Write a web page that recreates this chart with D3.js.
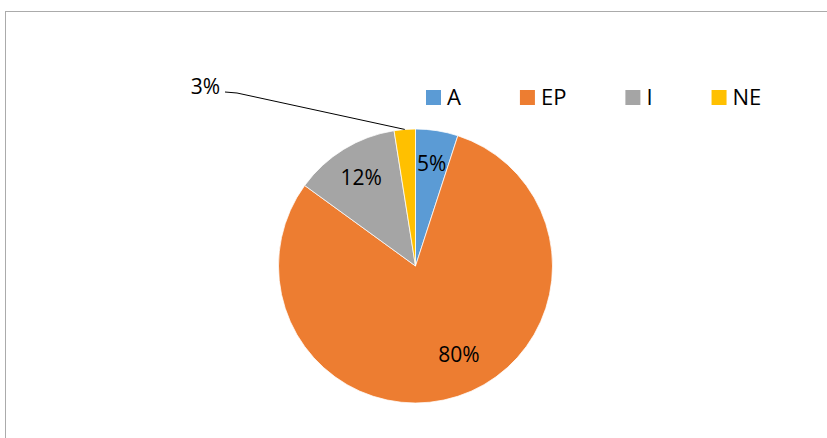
<!DOCTYPE html>
<html>

<head>
    <meta charset="UTF-8">
    <title>Pie chart</title>
    <script src="https://d3js.org/d3.v7.min.js"></script>
    <style>
        body { margin: 0; background: #fff; }
        text { font-family: "Open Sans", "Noto Sans", sans-serif; fill: #000; }
    </style>
</head>

<body>
    <div class="canvas"></div>

    <script>
        // data
        const categories = ["A", "EP", "I", "NE"];
        const values = [5, 80, 12.5, 2.5];
        const labels = ["5%", "80%", "12%", "3%"];

        const colors = ["#5B9BD5", "#ED7D31", "#A5A5A5", "#FFC000"];

        const width = 827;
        const height = 438;
        const cx = 415.5, cy = 266, radius = 137;

        const svg = d3.select(".canvas")
            .append("svg")
            .attr("width", width)
            .attr("height", height);

        // chart border (right & bottom run off the page)
        svg.append("rect")
            .attr("x", 5.5)
            .attr("y", 11.5)
            .attr("width", width + 20)
            .attr("height", height + 20)
            .attr("fill", "none")
            .attr("stroke", "#ababab")
            .attr("stroke-width", 1);

        const color = d3.scaleOrdinal().domain(categories).range(colors);

        const pie = d3.pie().sort(null).value(d => d.value);
        const slices = pie(categories.map((c, i) => ({ name: c, value: values[i], label: labels[i] })));

        const arc = d3.arc().innerRadius(0).outerRadius(radius);

        const graph = svg.append("g")
            .attr("transform", `translate(${cx}, ${cy})`);

        graph.selectAll("path")
            .data(slices)
            .enter()
            .append("path")
            .attr("d", arc)
            .attr("fill", d => color(d.data.name))
            .attr("stroke", "#fff")
            .attr("stroke-width", 0.75);

        // labels: inside ones at ~0.76R, tiny slices go outside with a leader line
        const labelR = 104;
        const fontSize = 21;
        const capHalf = 7.5;

        slices.forEach((d, i) => {
            let a = (d.startAngle + d.endAngle) / 2;
            const share = d.value / d3.sum(values);
            if (share < 0.04) {
                // outside label with leader line
                const px = Math.sin(a) * radius, py = -Math.cos(a) * radius;
                const ex = 237 - cx, ey = 93 - cy;
                graph.append("polyline")
                    .attr("points", `${225 - cx},${92 - cy} ${ex},${ey} ${px},${py}`)
                    .attr("fill", "none")
                    .attr("stroke", "#000")
                    .attr("stroke-width", 1);
                graph.append("text")
                    .attr("x", 220 - cx)
                    .attr("y", 86 - cy + capHalf)
                    .attr("text-anchor", "end")
                    .attr("font-size", fontSize)
                    .text(d.data.label);
                return;
            }
            if (share > 0.5) a -= 8 * Math.PI / 180; // best-fit nudge for the big slice
            const r = share > 0.5 ? 99 : labelR;
            graph.append("text")
                .attr("x", Math.sin(a) * r)
                .attr("y", -Math.cos(a) * r + capHalf)
                .attr("text-anchor", "middle")
                .attr("font-size", fontSize)
                .text(d.data.label);
        });

        // legend
        const legend = svg.append("g").attr("transform", "translate(426, 90)");
        let lx = 0;
        categories.forEach((c, i) => {
            const item = legend.append("g").attr("transform", `translate(${lx}, 0)`);
            item.append("rect")
                .attr("width", 15)
                .attr("height", 15)
                .attr("fill", color(c));
            const t = item.append("text")
                .attr("x", 21)
                .attr("y", 15)
                .attr("font-size", 22)
                .text(c);
            lx += 21 + t.node().getComputedTextLength() + 59;
        });
    </script>
</body>

</html>
